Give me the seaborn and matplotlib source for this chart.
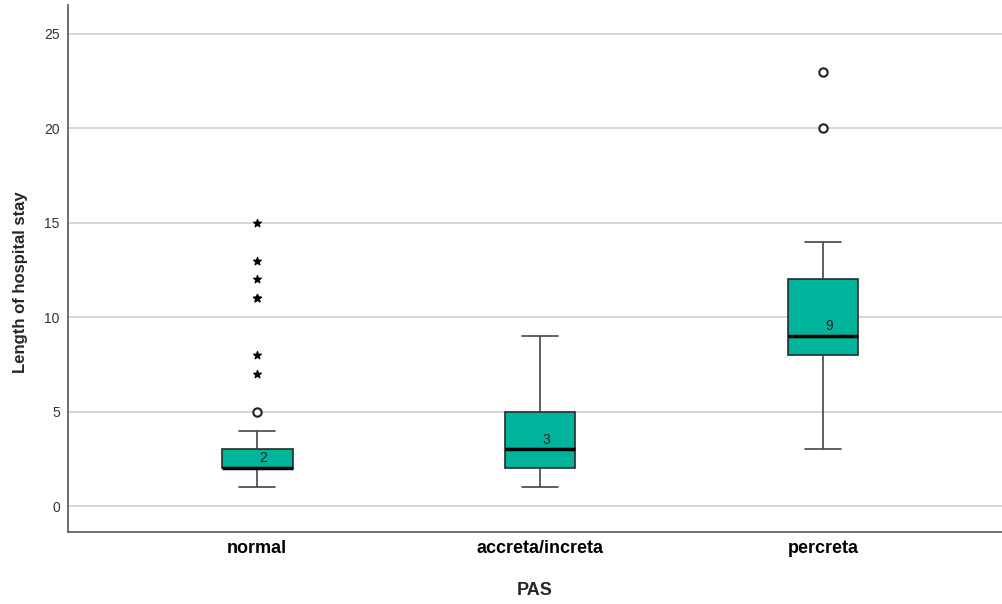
import numpy as np
import pandas as pd
import seaborn as sns
import matplotlib.pyplot as plt

# data (raw values per group)
groups = ["normal", "accreta/increta", "percreta"]
normal = [1, 1, 1] + [2] * 20 + [3] * 11 + [4, 4, 5, 5, 7, 8, 11, 11, 12, 13, 15]
accreta = [1, 2, 2, 2, 3, 3, 3, 4, 4, 5, 6, 7, 9]
percreta = [3, 5, 7, 8, 8, 8, 9, 9, 9, 10, 11, 12, 12, 13, 14, 20, 23]
yticks = [0, 5, 10, 15, 20, 25]

df = pd.DataFrame({
    "PAS": ["normal"] * len(normal) + ["accreta/increta"] * len(accreta) + ["percreta"] * len(percreta),
    "stay": normal + accreta + percreta,
})

sns.set_style("white")
plt.rcParams['font.family'] = ['Liberation Sans', 'DejaVu Sans']

fig = plt.figure(figsize=(10.03, 6.04), dpi=100)
ax = fig.add_axes([0.068, 0.119, 0.931, 0.873])

for y in yticks:
    ax.axhline(y, color="#cfcfcf", lw=1.2, zorder=0)

sns.boxplot(data=df, x="PAS", y="stay", order=groups, color="#00b39b",
            width=0.25, showfliers=False, saturation=1, ax=ax,
            boxprops=dict(edgecolor="#2b2b2b", linewidth=1.2),
            whiskerprops=dict(color="#444444", linewidth=1.2),
            capprops=dict(color="#444444", linewidth=1.2),
            medianprops=dict(color="black", linewidth=2.5))

# SPSS style outliers: circles (1.5-3 IQR) and stars (>3 IQR), median labels
for i, g in enumerate(groups):
    vals = np.array(df.loc[df.PAS == g, "stay"])
    q1, med, q3 = np.percentile(vals, [25, 50, 75])
    iqr = q3 - q1
    far = vals[(vals > q3 + 3 * iqr) | (vals < q1 - 3 * iqr)]
    out = vals[((vals > q3 + 1.5 * iqr) | (vals < q1 - 1.5 * iqr))]
    out = np.setdiff1d(out, far)
    ax.scatter(np.full(len(out), i), out, marker="o", s=36, facecolor="white",
               edgecolor="#222222", linewidth=1.5, zorder=5)
    ax.scatter(np.full(len(far), i), far, marker="*", s=32, color="black", zorder=5)
    ax.text(i + 0.023, med + 0.15, f"{med:g}", ha="center", va="bottom",
            fontsize=10, color="#222222")

ax.set_xlim(-0.668, 2.633)
ax.set_ylim(-1.38, 26.54)
ax.set_yticks(yticks)
ax.tick_params(axis="y", labelsize=10, colors="#333333", length=0, pad=6)
ax.tick_params(axis="x", length=0, pad=6)
for lab in ax.get_xticklabels():
    lab.set_fontsize(13)
    lab.set_fontweight("bold")
    lab.set_color("black")

ax.set_xlabel("PAS", fontsize=13, fontweight="bold", labelpad=18)
ax.set_ylabel("Length of hospital stay", fontsize=12, fontweight="bold")
ax.yaxis.set_label_coords(-0.043, 0.474)
for s in ["top", "right"]:
    ax.spines[s].set_visible(False)
for s in ["left", "bottom"]:
    ax.spines[s].set_color("#555555")
    ax.spines[s].set_linewidth(1.2)

fig.savefig("out.png", dpi=100, facecolor="white")
